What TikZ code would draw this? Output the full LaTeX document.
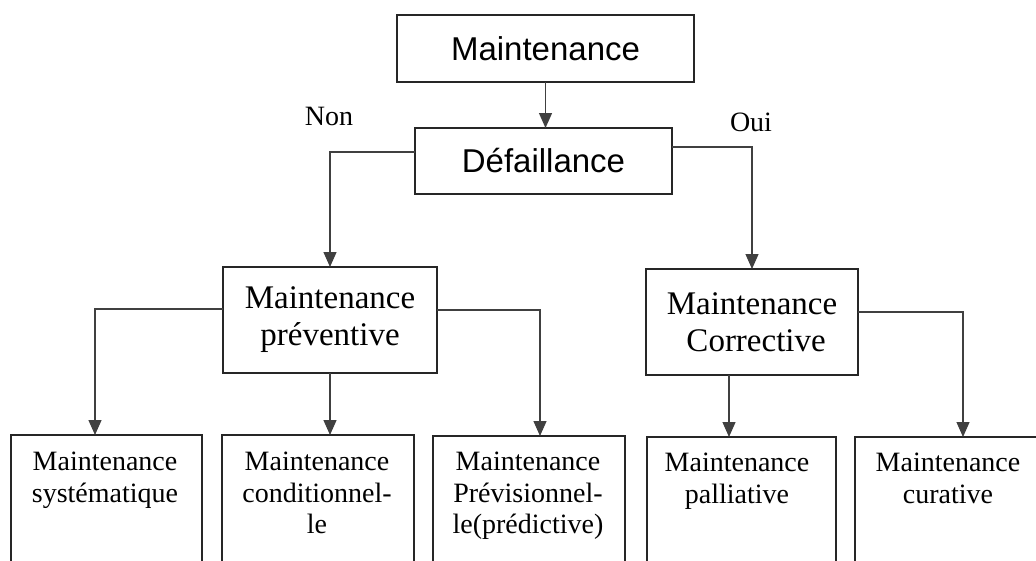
\documentclass[tikz,border=0pt]{standalone}
\usepackage{fontspec}
\setmainfont{Liberation Serif}
\newfontfamily\arialf{Liberation Sans}
\usetikzlibrary{arrows.meta}
\begin{document}
\begin{tikzpicture}[x=1pt,y=-1pt,
  box/.style={draw=black!85,line width=1.9pt,inner sep=0pt,outer sep=0pt,anchor=north west},
  conn/.style={draw=black!75,line width=1.3pt,-{Triangle[width=13pt,length=15pt]}},
  topfont/.style={font=\arialf\fontsize{33}{38}\selectfont},
  midfont/.style={font=\fontsize{33}{37}\selectfont,align=center},
  lowfont/.style={font=\fontsize{28}{31.5}\selectfont,align=center,inner sep=0pt,anchor=north},
  yn/.style={font=\fontsize{28}{32}\selectfont,inner sep=0pt}]
\useasboundingbox (0,0) rectangle (1036,560);
\clip (0,0) rectangle (1036,560);
% top boxes
\node[box,minimum width=297pt,minimum height=67pt,topfont] (m) at (397,15) {Maintenance};
\node[box,minimum width=257pt,minimum height=66pt,topfont] (d) at (415,128) {Défaillance};
% level 2
\node[box,minimum width=214pt,minimum height=106pt,midfont] (p) at (223,267) {Maintenance\\préventive};
\node[box,minimum width=212pt,minimum height=106pt,midfont] (c) at (646,269) {Maintenance\\\ Corrective};
% bottom boxes
\node[box,minimum width=191pt,minimum height=200pt] (b1) at (11,435) {};
\node[box,minimum width=192pt,minimum height=200pt] (b2) at (222,435) {};
\node[box,minimum width=192pt,minimum height=200pt] (b3) at (433,436) {};
\node[box,minimum width=189pt,minimum height=200pt] (b4) at (647,437) {};
\node[box,minimum width=200pt,minimum height=200pt] (b5) at (855,437) {};
\node[lowfont] (t1) at (105,452) {Maintenance\\systématique};
\node[lowfont] (t2) at (317,452) {Maintenance\\conditionnel-\\le};
\node[lowfont] (t3) at (528,452) {Maintenance\\Prévisionnel-\\le(prédictive)};
\node[lowfont] (t4) at (737,453) {Maintenance\\palliative};
\node[lowfont] (t5) at (948,453) {Maintenance\\curative};
% labels
\node[yn] (non) at (329,116) {Non};
\node[yn] (oui) at (751,122) {Oui};
% connector targets
\coordinate (a1) at (95,435);
\coordinate (a3) at (540,436);
\coordinate (a4) at (729,437);
\coordinate (a5) at (963,437);
% connectors
\draw[conn] (m.south) -- (m.south |- d.north);
\draw[conn] ([yshift=9pt]d.west) -| (p.north);
\draw[conn] ([yshift=14pt]d.east) -| (c.north);
\draw[conn] ([yshift=11pt]p.west) -| (a1);
\draw[conn] (p.south) -- (p.south |- b2.north);
\draw[conn] ([yshift=10pt]p.east) -| (a3);
\draw[conn] (c.south -| a4) -- (a4);
\draw[conn] ([yshift=10pt]c.east) -| (a5);
\end{tikzpicture}
\end{document}
